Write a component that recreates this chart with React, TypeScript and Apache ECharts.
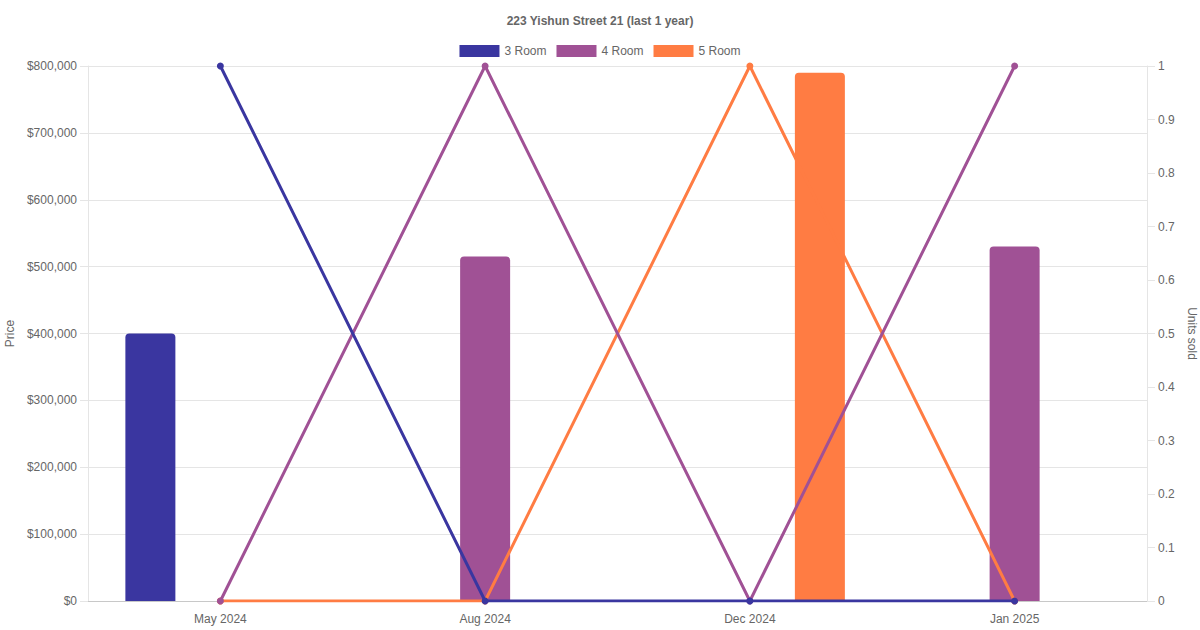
import React, { useEffect, useRef } from "react";
import * as echarts from "echarts";

const categories = ["May 2024", "Aug 2024", "Dec 2024", "Jan 2025"];
const roomTypes = ["3 Room", "4 Room", "5 Room"];
const colors = ["#3a36a0", "#a05195", "#ff7c43"];

const price3Room = [400000, null, null, null];
const price4Room = [null, 515000, null, 530000];
const price5Room = [null, null, 790000, null];

const units3Room = [1, 0, 0, 0];
const units4Room = [0, 1, 0, 1];
const units5Room = [0, 0, 1, 0];

const priceTicks = { min: 0, max: 800000, interval: 100000 };
const unitTicks = { min: 0, max: 1, interval: 0.1 };

export default function App() {
  const ref = useRef<HTMLDivElement>(null);
  useEffect(() => {
    if (!ref.current) return;
    const chart = echarts.init(ref.current, undefined, { renderer: "svg" });
    const prices = [price3Room, price4Room, price5Room];
    const units = [units3Room, units4Room, units5Room];
    const font = "'Liberation Sans', Arial, Helvetica, sans-serif";
    const gridColor = "#e5e5e5";
    const barSeries = roomTypes.map((name, i) => ({
      name,
      type: "bar",
      yAxisIndex: 0,
      data: prices[i],
      barWidth: 50,
      barGap: "40%",
      itemStyle: { color: colors[i], borderRadius: [4, 4, 0, 0] },
      z: 2,
    }));
    const lineSeries = roomTypes.map((name, i) => ({
      name,
      type: "line",
      yAxisIndex: 1,
      data: units[i],
      symbol: "circle",
      symbolSize: 7,
      showAllSymbol: true,
      lineStyle: { color: colors[i], width: 3 },
      itemStyle: { color: colors[i] },
      z: 10 - i,
    }));
    chart.setOption({
      animation: false,
      textStyle: { fontFamily: font },
      title: {
        text: "223 Yishun Street 21 (last 1 year)",
        left: "center",
        top: 10,
        textStyle: { fontSize: 12, fontWeight: "bold", color: "#666", fontFamily: font },
      },
      legend: {
        data: roomTypes,
        top: 40,
        left: "center",
        icon: "rect",
        itemWidth: 40,
        itemHeight: 12,
        itemGap: 10,
        textStyle: { fontSize: 12, color: "#666", fontFamily: font },
      },
      grid: {
        left: 88,
        right: 53,
        top: 66,
        bottom: 29,
        containLabel: false,
        outerBoundsMode: "none",
      },
      xAxis: {
        type: "category",
        data: categories,
        axisLine: { show: true, lineStyle: { color: "#c8c8c8", width: 1 } },
        axisTick: { show: false },
        axisLabel: { color: "#666", fontSize: 12, margin: 12, fontFamily: font },
        splitLine: { show: false },
      },
      yAxis: [
        {
          type: "value",
          ...priceTicks,
          name: "Price",
          nameLocation: "middle",
          nameRotate: 90,
          nameGap: 72,
          nameTextStyle: { color: "#666", fontSize: 12, fontFamily: font },
          axisLine: { show: true, lineStyle: { color: gridColor } },
          axisTick: { show: true, length: 8, lineStyle: { color: gridColor } },
          axisLabel: {
            color: "#666",
            fontSize: 12,
            margin: 11,
            fontFamily: font,
            formatter: (v: number) => "$" + v.toLocaleString("en-US"),
          },
          splitLine: { show: true, lineStyle: { color: gridColor } },
        },
        {
          type: "value",
          ...unitTicks,
          position: "right",
          name: "Units sold",
          nameLocation: "middle",
          nameRotate: -90,
          nameGap: 36,
          nameTextStyle: { color: "#666", fontSize: 12, fontFamily: font },
          axisLine: { show: true, lineStyle: { color: gridColor } },
          axisTick: { show: true, length: 8, lineStyle: { color: gridColor } },
          axisLabel: {
            color: "#666",
            fontSize: 12,
            margin: 11,
            fontFamily: font,
            formatter: (v: number) => String(parseFloat(v.toFixed(1))),
          },
          splitLine: { show: false },
        },
      ],
      series: [...barSeries, ...lineSeries],
    });
    return () => chart.dispose();
  }, []);
  return (
    <div
      ref={ref}
      style={{ position: "fixed", left: 0, top: 0, width: 1200, height: 630, background: "#fff" }}
    />
  );
}
